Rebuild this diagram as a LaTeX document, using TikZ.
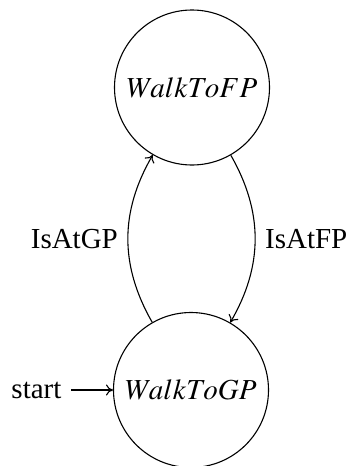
\documentclass[tikz,border=0pt]{standalone}
\usepackage{mathptmx}
\usepackage[no-math]{fontspec}
\setmainfont{Liberation Serif}
\usepackage{tikz}
\usetikzlibrary{arrows.meta}
\usetikzlibrary{positioning}
\tikzset{state/.style = {circle, draw, minimum size=155pt, inner sep=0pt},
         trans/.style = {-{To[length=7pt, width=11pt]}, line width=1.1pt}}

\begin{document}
\begin{tikzpicture}[x=1pt, y=1pt, line width=1.1pt, inner sep=9.5pt,
                    font=\fontsize{29}{35}\selectfont]
    \useasboundingbox (0, 0) rectangle (347, -466);
    \node [state] (fp) at (192, -87.5) {$WalkToFP$};
    \node [state] (gp) at (191, -390) {$WalkToGP$};
    \node [left=41.5pt of gp] (start) {start};
    \draw [trans] (start) -- (gp);
    \draw [trans] (gp) to [bend left=30] node [left] (gpLabel) {IsAtGP} (fp);
    \draw [trans] (fp) to [bend left=30] node [right] (fpLabel) {IsAtFP} (gp);
  \end{tikzpicture}
\end{document}
